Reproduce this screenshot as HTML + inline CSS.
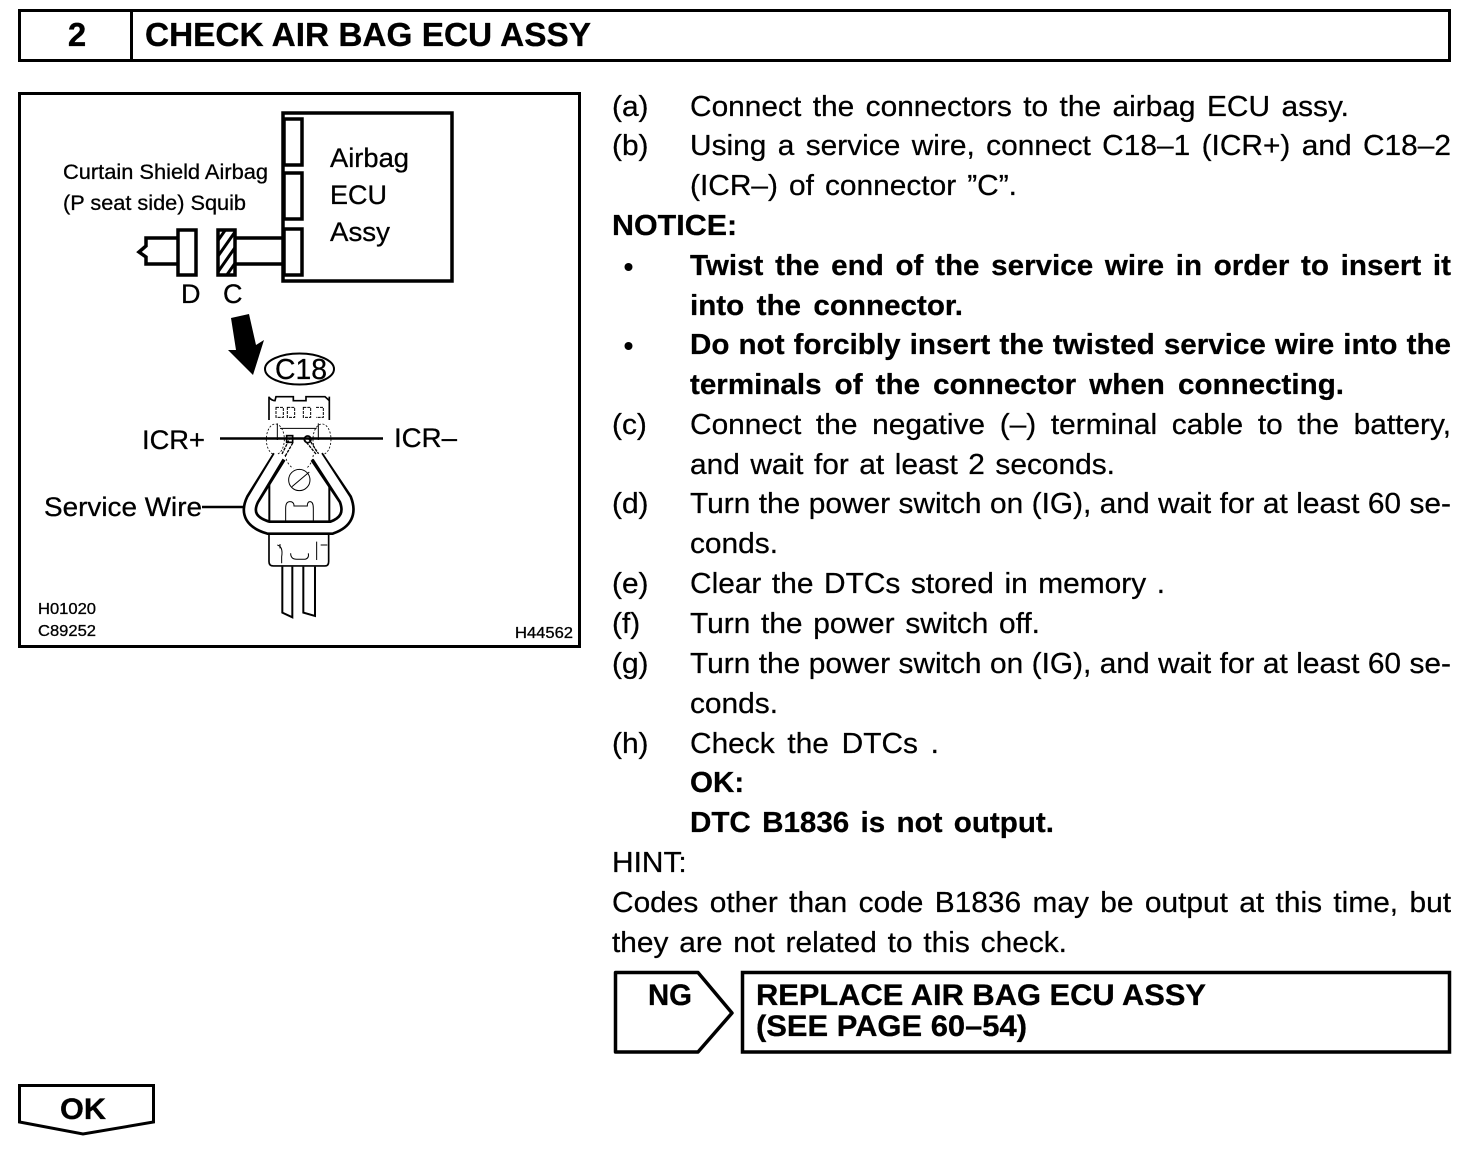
<!DOCTYPE html>
<html><head><meta charset="utf-8"><style>
html,body{margin:0;padding:0;background:#fff;width:1472px;height:1154px;overflow:hidden}
svg{position:absolute;left:0;top:0}
.l,.b{position:absolute;height:40px;margin-top:1px;white-space:nowrap;text-align:justify;text-align-last:justify;font:29px/40px "Liberation Sans",sans-serif;color:#000;-webkit-text-stroke:.25px #000;--s:1.03;transform:scaleX(var(--s));transform-origin:0 0}
.b{font-weight:bold;--s:1.02}
text{font-family:"Liberation Sans",sans-serif;fill:#000;stroke:#000;stroke-width:.3}
</style></head><body>
<svg width="1472" height="1154" viewBox="0 0 1472 1154" fill="none" stroke="#000">
<defs><pattern id="h" width="9" height="9" patternUnits="userSpaceOnUse" patternTransform="rotate(35)"><rect width="3" height="9" fill="#000" stroke="none"/></pattern></defs>
<rect x="19.5" y="10.5" width="1430" height="50" stroke-width="3"/>
<line x1="131.5" y1="10" x2="131.5" y2="60" stroke-width="3"/>
<g stroke="none">
<text x="77" y="46" font-size="33" font-weight="bold" text-anchor="middle">2</text>
<text x="145" y="46" font-size="33" font-weight="bold" textLength="446" lengthAdjust="spacingAndGlyphs">CHECK AIR BAG ECU ASSY</text>
</g>
<rect x="19.5" y="93.5" width="560" height="553" stroke-width="3"/>
<rect x="283" y="113" width="169" height="168" stroke-width="3.5"/>
<g stroke-width="3.5">
<rect x="284" y="119" width="18" height="46"/><rect x="284" y="173" width="18" height="46"/><rect x="284" y="229" width="18" height="46"/>
<rect x="178" y="230" width="18" height="45"/><rect x="218" y="230" width="17" height="45" fill="url(#h)"/>
<path d="M236 238H283M236 264H283M177 238H146V246L139 252L146 257V264H177"/>
</g>
<g stroke="none">
<text x="63" y="179" font-size="21.5" textLength="205" lengthAdjust="spacingAndGlyphs">Curtain Shield Airbag</text>
<text x="63" y="210" font-size="21.5" textLength="183" lengthAdjust="spacingAndGlyphs">(P seat side) Squib</text>
<text x="330" y="167" font-size="27" textLength="79" lengthAdjust="spacingAndGlyphs">Airbag</text>
<text x="330" y="204" font-size="27" textLength="57" lengthAdjust="spacingAndGlyphs">ECU</text>
<text x="330" y="241" font-size="27" textLength="60" lengthAdjust="spacingAndGlyphs">Assy</text>
<text x="181" y="303" font-size="27">D</text>
<text x="223" y="303" font-size="27">C</text>
<polygon fill="#000" points="231,318 249,314 256,345 264,340 253,375 228,350 236,350"/>
<text x="275" y="379" font-size="29" textLength="52" lengthAdjust="spacingAndGlyphs">C18</text>
<text x="142" y="449" font-size="27" textLength="63" lengthAdjust="spacingAndGlyphs">ICR+</text>
<text x="394" y="447" font-size="27" textLength="63" lengthAdjust="spacingAndGlyphs">ICR–</text>
<text x="44" y="516" font-size="27" textLength="158" lengthAdjust="spacingAndGlyphs">Service Wire</text>
<text x="38" y="614" font-size="15.5" textLength="58" lengthAdjust="spacingAndGlyphs">H01020</text>
<text x="38" y="636" font-size="15.5" textLength="58" lengthAdjust="spacingAndGlyphs">C89252</text>
<text x="515" y="638" font-size="15.5" textLength="58" lengthAdjust="spacingAndGlyphs">H44562</text>
</g>
<ellipse cx="299.5" cy="369" rx="34.5" ry="15.5" stroke-width="2"/>
<path d="M220 438.500H383M202 507H243" stroke-width="2.500"/>
<g transform="translate(200 340) scale(.3333)">
<path d="M207 170V240M388 170V240" stroke-width="5"/>
<path d="M207 172Q215 182 225 182L228 170H280V182H318V170H375L388 182" stroke-width="5"/>
<path d="M228 202h22v30h-22zM262 202h22v30h-22zM310 202h22v30h-22zM348 202h22v30h-22" stroke-width="3" stroke-dasharray="9 3"/>
<ellipse cx="226" cy="298" rx="27" ry="46" stroke-width="2.500" stroke-dasharray="6 5"/>
<ellipse cx="366" cy="298" rx="27" ry="46" stroke-width="2.500" stroke-dasharray="6 5"/>
<path d="M232 250V300M355 250V300M240 265H350" stroke-width="3"/>
<path d="M246 342L268 298M256 348L280 306M312 298L348 342M326 296L360 348" stroke-width="4" stroke-dasharray="9 3"/>
<path d="M255 345Q262 375 280 385M340 345Q335 375 318 385" stroke-width="2.500" stroke-dasharray="6 6"/>
<rect x="260" y="287" width="18" height="20" stroke-width="5"/>
<circle cx="323" cy="298" r="10" stroke-width="5"/>
<circle cx="298" cy="420" r="32" stroke-width="3"/>
<path d="M276 440L328 396" stroke-width="3"/>
<path d="M208 430V545M388 430V545" stroke-width="6"/>
<path d="M257 545V505Q257 485 270 485Q282 485 282 498H322Q322 485 330 485Q340 485 340 505V545" stroke-width="3"/>
<path d="M238 350L158 478Q128 540 205 563H395Q460 540 436 478L350 350" stroke="#000" stroke-width="44"/>
<path d="M238 345L158 478Q128 540 205 563H395Q460 540 436 478L350 345" stroke="#fff" stroke-width="28"/>
<path d="M207 585V665Q207 678 220 678H375Q386 678 386 665V585" stroke-width="5"/>
<path d="M232 615Q250 620 245 650V670M240 612V625M350 605V660M362 615H382M272 640Q272 658 290 658H315Q328 655 325 640" stroke-width="3"/>
<path d="M247 680V818L277 832V680M310 680V818L345 828V680" stroke-width="6"/>
</g>
<polygon points="615.500,972.500 698,972.500 732,1013 698,1052 615.500,1052" stroke-width="3.500" stroke-linejoin="round"/>
<rect x="742.500" y="972.500" width="707" height="79.500" stroke-width="3.500"/>
<polygon points="19.500,1085.500 153.500,1085.500 153.500,1122 83,1134 19.500,1122" stroke-width="3"/>
<g stroke="none" font-weight="bold" font-size="30">
<text x="648" y="1005" textLength="44" lengthAdjust="spacingAndGlyphs">NG</text>
<text x="756" y="1005" textLength="450" lengthAdjust="spacingAndGlyphs">REPLACE AIR BAG ECU ASSY</text>
<text x="756" y="1036" textLength="271" lengthAdjust="spacingAndGlyphs">(SEE PAGE 60–54)</text>
<text x="60" y="1119" textLength="46" lengthAdjust="spacingAndGlyphs">OK</text>
</g>
<circle cx="628.500" cy="267" r="4" fill="#000" stroke="none"/>
<circle cx="628.500" cy="346" r="4" fill="#000" stroke="none"/>
</svg>
<div class="l" style="left:612px;top:86px">(a)</div><div class="l" style="left:690px;top:86px;width:calc(659px/var(--s))">Connect the connectors to the airbag ECU assy.</div>
<div class="l" style="left:612px;top:125px">(b)</div><div class="l" style="left:690px;top:125px;width:calc(761px/var(--s))">Using a service wire, connect C18–1 (ICR+) and C18–2</div>
<div class="l" style="left:690px;top:165px;width:calc(327px/var(--s))">(ICR–) of connector ”C”.</div>
<div class="b" style="left:612px;top:205px;--s:1.05;width:calc(125px/var(--s))">NOTICE:</div>
<div class="b" style="left:690px;top:245px;width:calc(761px/var(--s))">Twist the end of the service wire in order to insert it</div>
<div class="b" style="left:690px;top:285px;width:calc(273px/var(--s))">into the connector.</div>
<div class="b" style="left:690px;top:324px;width:calc(761px/var(--s))">Do not forcibly insert the twisted service wire into the</div>
<div class="b" style="left:690px;top:364px;width:calc(654px/var(--s))">terminals of the connector when connecting.</div>
<div class="l" style="left:612px;top:404px">(c)</div><div class="l" style="left:690px;top:404px;width:calc(761px/var(--s))">Connect the negative (–) terminal cable to the battery,</div>
<div class="l" style="left:690px;top:444px;width:calc(425px/var(--s))">and wait for at least 2 seconds.</div>
<div class="l" style="left:612px;top:483px">(d)</div><div class="l" style="left:690px;top:483px;width:calc(761px/var(--s))">Turn the power switch on (IG), and wait for at least 60 se-</div>
<div class="l" style="left:690px;top:523px;width:calc(88px/var(--s))">conds.</div>
<div class="l" style="left:612px;top:563px">(e)</div><div class="l" style="left:690px;top:563px;width:calc(475px/var(--s))">Clear the DTCs stored in memory .</div>
<div class="l" style="left:612px;top:603px">(f)</div><div class="l" style="left:690px;top:603px;width:calc(350px/var(--s))">Turn the power switch off.</div>
<div class="l" style="left:612px;top:643px">(g)</div><div class="l" style="left:690px;top:643px;width:calc(761px/var(--s))">Turn the power switch on (IG), and wait for at least 60 se-</div>
<div class="l" style="left:690px;top:683px;width:calc(88px/var(--s))">conds.</div>
<div class="l" style="left:612px;top:723px">(h)</div><div class="l" style="left:690px;top:723px;width:calc(249px/var(--s))">Check the DTCs .</div>
<div class="b" style="left:690px;top:762px;width:calc(55px/var(--s))">OK:</div>
<div class="b" style="left:690px;top:802px;width:calc(364px/var(--s))">DTC B1836 is not output.</div>
<div class="l" style="left:612px;top:842px;width:calc(76px/var(--s))">HINT:</div>
<div class="l" style="left:612px;top:882px;width:calc(839px/var(--s))">Codes other than code B1836 may be output at this time, but</div>
<div class="l" style="left:612px;top:922px;width:calc(455px/var(--s))">they are not related to this check.</div>
</body></html>
